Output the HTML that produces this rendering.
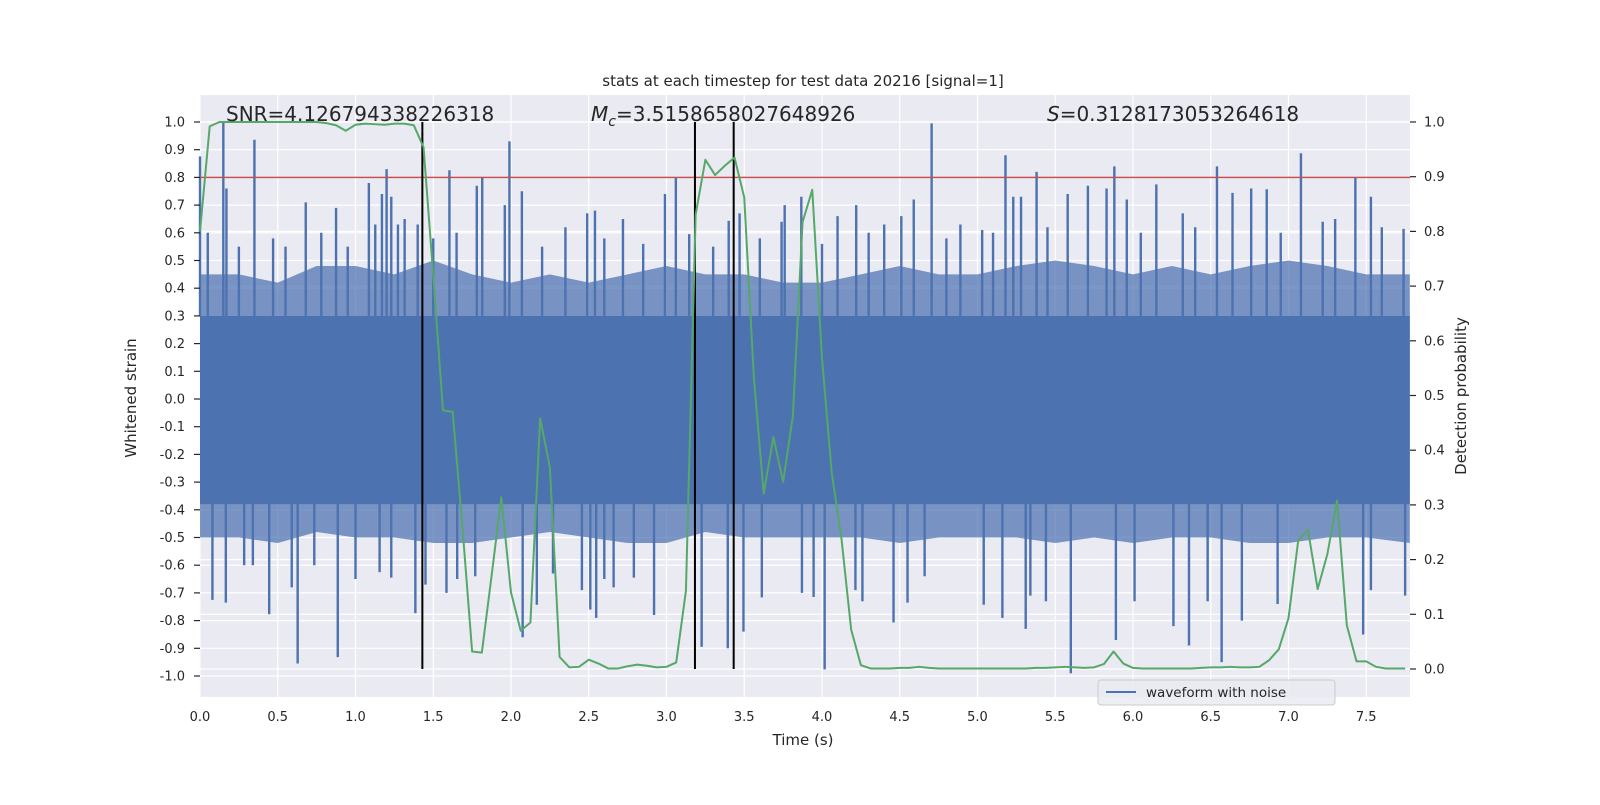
<!DOCTYPE html>
<html><head><meta charset="utf-8"><style>
body{margin:0;background:#fff;}
svg text{font-family:"DejaVu Sans","Liberation Sans",sans-serif;fill:#262626;}
</style></head><body>
<svg id="chart" width="1600" height="800" viewBox="0 0 1600 800" xmlns="http://www.w3.org/2000/svg">
<rect x="0" y="0" width="1600" height="800" fill="#fff"/>
<rect x="200" y="95" width="1210" height="602" fill="#eaeaf2"/>
<g id="grid"></g>
<g id="wave"></g>
<g id="overlay"></g>
<g id="axes"></g>
<text x="803" y="86" text-anchor="middle" font-size="15">stats at each timestep for test data 20216 [signal=1]</text>
<text x="226" y="121" font-size="20">SNR=4.126794338226318</text>
<text x="591" y="121" font-size="20"><tspan font-style="italic">M</tspan><tspan font-style="italic" font-size="14" dy="5">c</tspan><tspan dy="-5">=3.5158658027648926</tspan></text>
<text x="1047" y="121" font-size="20"><tspan font-style="italic">S</tspan>=0.3128173053264618</text>
<text x="803" y="745" text-anchor="middle" font-size="15">Time (s)</text>
<text transform="translate(136,398) rotate(-90)" text-anchor="middle" font-size="15">Whitened strain</text>
<text transform="translate(1466,396) rotate(-90)" text-anchor="middle" font-size="15">Detection probability</text>
<g>
<rect x="1098" y="680" width="237" height="25" rx="3" fill="#eaeaf2" fill-opacity="0.85" stroke="#cccccc"/>
<line x1="1106" y1="692" x2="1136" y2="692" stroke="#4c72b0" stroke-width="2"/>
<text x="1146" y="697" font-size="13.5">waveform with noise</text>
</g>
</svg>
<script>
// ---- data ----
const probValues = [0.80,0.992,1,1,1,1,1,1,1,1,1,1,1,0.998,0.994,0.984,0.995,0.997,0.996,0.995,0.997,0.997,0.994,0.954,0.72,0.473,0.470,0.26,0.032,0.030,0.17,0.314,0.14,0.070,0.085,0.458,0.369,0.022,0.003,0.004,0.017,0.010,0.001,0.001,0.005,0.008,0.006,0.003,0.004,0.012,0.143,0.831,0.931,0.903,0.920,0.935,0.862,0.530,0.321,0.424,0.342,0.462,0.817,0.876,0.568,0.359,0.239,0.072,0.007,0.001,0.001,0.001,0.002,0.002,0.004,0.002,0.001,0.001,0.001,0.001,0.001,0.001,0.001,0.001,0.001,0.001,0.002,0.002,0.003,0.004,0.003,0.002,0.003,0.009,0.032,0.010,0.002,0.001,0.001,0.001,0.001,0.001,0.001,0.002,0.003,0.003,0.004,0.003,0.003,0.004,0.016,0.036,0.093,0.235,0.255,0.146,0.21,0.308,0.08,0.014,0.014,0.004,0.001,0.001,0.001];
const probStep = 0.0625;
const markerTimes = [1.43, 3.183, 3.432];
const thresholdValue = 0.8;
const envTimes = [0,0.25,0.5,0.75,1,1.25,1.5,1.75,2,2.25,2.5,2.75,3,3.25,3.5,3.75,4,4.25,4.5,4.75,5,5.25,5.5,5.75,6,6.25,6.5,6.75,7,7.25,7.5,7.78];
const upperEnv = [0.45,0.45,0.42,0.48,0.48,0.45,0.5,0.45,0.42,0.45,0.42,0.45,0.48,0.45,0.45,0.42,0.42,0.45,0.48,0.45,0.45,0.48,0.5,0.48,0.45,0.48,0.45,0.48,0.5,0.48,0.45,0.45];
const lowerEnv = [-0.5,-0.5,-0.52,-0.48,-0.5,-0.5,-0.52,-0.52,-0.5,-0.48,-0.5,-0.52,-0.52,-0.48,-0.5,-0.5,-0.5,-0.5,-0.52,-0.5,-0.5,-0.5,-0.52,-0.5,-0.52,-0.5,-0.5,-0.52,-0.52,-0.5,-0.5,-0.52];
const coreBand = [-0.38, 0.3];
const upSpikeT = [0,0.15,0.17,0.35,0.47,0.68,0.875,1.086,1.127,1.17,1.2,1.23,1.273,1.316,1.4,1.604,1.78,1.815,1.96,1.99,2.07,2.35,2.49,2.54,2.72,2.99,3.06,3.146,3.4,3.47,3.74,3.76,3.867,4.1,4.22,4.4,4.51,4.59,4.705,4.89,5.03,5.18,5.23,5.28,5.38,5.58,5.71,5.83,5.88,5.96,6.15,6.32,6.54,6.64,6.76,6.86,7.08,7.22,7.43,7.53,7.74,0.05,0.25,0.55,0.78,0.95,1.5,1.65,2.2,2.6,2.85,3.3,3.6,4.0,4.3,4.8,5.1,5.45,6.05,6.4,6.95,7.3,7.6];
const upSpikeV = [0.876,1.0,0.76,0.936,0.58,0.71,0.69,0.78,0.63,0.74,0.83,0.73,0.63,0.65,0.63,0.826,0.77,0.8,0.70,0.93,0.75,0.62,0.67,0.68,0.65,0.74,0.8,0.595,0.643,0.67,0.64,0.70,0.73,0.66,0.70,0.63,0.66,0.72,0.995,0.63,0.61,0.88,0.73,0.73,0.82,0.74,0.77,0.76,0.84,0.72,0.775,0.67,0.84,0.744,0.76,0.757,0.887,0.64,0.80,0.73,0.614,0.6,0.55,0.55,0.6,0.55,0.58,0.6,0.55,0.58,0.56,0.55,0.58,0.56,0.6,0.58,0.6,0.62,0.6,0.62,0.6,0.65,0.62];
const lowSpikeT = [0.08,0.166,0.284,0.34,0.445,0.59,0.628,0.735,0.886,1.0,1.155,1.23,1.385,1.45,1.585,1.654,1.77,2.075,2.166,2.27,2.456,2.51,2.548,2.6,2.66,2.79,2.92,3.226,3.394,3.495,3.613,3.871,3.946,4.017,4.215,4.26,4.46,4.55,4.66,5.04,5.16,5.31,5.34,5.44,5.6,5.89,6.01,6.26,6.36,6.48,6.57,6.7,6.93,7.48,7.53,7.75];
const lowSpikeV = [-0.725,-0.735,-0.6,-0.6,-0.777,-0.68,-0.955,-0.6,-0.932,-0.65,-0.625,-0.645,-0.773,-0.67,-0.7,-0.65,-0.64,-0.86,-0.743,-0.63,-0.69,-0.76,-0.79,-0.65,-0.68,-0.645,-0.78,-0.895,-0.9,-0.84,-0.716,-0.70,-0.715,-0.976,-0.69,-0.73,-0.807,-0.735,-0.64,-0.743,-0.79,-0.83,-0.71,-0.73,-0.99,-0.87,-0.73,-0.82,-0.89,-0.73,-0.95,-0.80,-0.74,-0.85,-0.69,-0.71];
const xTicks = ["0.0","0.5","1.0","1.5","2.0","2.5","3.0","3.5","4.0","4.5","5.0","5.5","6.0","6.5","7.0","7.5"];
const yTicks = ["1.0","0.9","0.8","0.7","0.6","0.5","0.4","0.3","0.2","0.1","0.0","-0.1","-0.2","-0.3","-0.4","-0.5","-0.6","-0.7","-0.8","-0.9","-1.0"];
const y2Ticks = ["0.0","0.1","0.2","0.3","0.4","0.5","0.6","0.7","0.8","0.9","1.0"];

// ---- scales ----
const X = t => 200 + t * 155.5;
const Y = v => 399 - v * 277;
const YR = p => 669 - p * 547;
const NS = "http://www.w3.org/2000/svg";
function mk(tag, attrs, parent){ const e=document.createElementNS(NS,tag); for(const k in attrs) e.setAttribute(k,attrs[k]); parent.appendChild(e); return e; }
const grid=document.getElementById('grid'), wave=document.getElementById('wave'), overlay=document.getElementById('overlay'), axes=document.getElementById('axes');

yTicks.forEach(s=>{ const y=Y(parseFloat(s));
  const g=mk('line',{x1:200,x2:1410,y1:y,y2:y,stroke:'#fff','stroke-width':1.2},grid);
  
  
  const tk=mk('line',{x1:194,x2:200,y1:y,y2:y,stroke:'#262626','stroke-width':1.2},axes);
  
  
  const t=mk('text',{x:185,y:y+4.5,'text-anchor':'end','font-size':13},axes); t.textContent=s;
  
  
});
y2Ticks.forEach(s=>{ const y=YR(parseFloat(s));
  const g=mk('line',{x1:200,x2:1410,y1:y,y2:y,stroke:'#fff','stroke-width':1.2},grid);
  
  
  const tk=mk('line',{x1:1410,x2:1416,y1:y,y2:y,stroke:'#262626','stroke-width':1.2},axes);
  
  
  const t=mk('text',{x:1424,y:y+4.5,'font-size':13},axes); t.textContent=s;
  
  
});
xTicks.forEach(s=>{ const x=X(parseFloat(s));
  const g=mk('line',{x1:x,x2:x,y1:95,y2:697,stroke:'#fff','stroke-width':1.2},grid);
  
  
  const t=mk('text',{x:x,y:721,'text-anchor':'middle','font-size':13},axes); t.textContent=s;
  
  
});

// waveform envelope (linear between envelope samples)
let pts=[];
envTimes.forEach((t,i)=>{ pts.push(X(t)+','+Y(upperEnv[i])); });
for(let i=envTimes.length-1;i>=0;i--){ pts.push(X(envTimes[i])+','+Y(lowerEnv[i])); }
const env=mk('polygon',{points:pts.join(' '),fill:'#4c72b0','fill-opacity':0.72},wave);


const core=mk('rect',{x:X(0),y:Y(coreBand[1]),width:X(envTimes[envTimes.length-1])-X(0),height:Y(coreBand[0])-Y(coreBand[1]),fill:'#4c72b0'},wave);


upSpikeT.forEach((t,i)=>{ const l=mk('line',{x1:X(t),x2:X(t),y1:Y(0.3),y2:Y(upSpikeV[i]),stroke:'#4c72b0','stroke-width':2.4},wave);
  
   });
lowSpikeT.forEach((t,i)=>{ const l=mk('line',{x1:X(t),x2:X(t),y1:Y(-0.3),y2:Y(lowSpikeV[i]),stroke:'#4c72b0','stroke-width':2.4},wave);
  
   });

// threshold
const th=mk('line',{x1:200,x2:1410,y1:Y(thresholdValue),y2:Y(thresholdValue),stroke:'#c44e52','stroke-width':1.5},overlay);


// markers
markerTimes.forEach(t=>{ const l=mk('line',{x1:X(t),x2:X(t),y1:YR(1),y2:YR(0),stroke:'#000','stroke-width':2},overlay);
  
   });
// probability
const pp=probValues.map((p,i)=>X(i*probStep)+','+YR(p)).join(' ');
const pl=mk('polyline',{points:pp,fill:'none',stroke:'#55a868','stroke-width':2,'stroke-linejoin':'round'},overlay);


</script>
</body></html>
